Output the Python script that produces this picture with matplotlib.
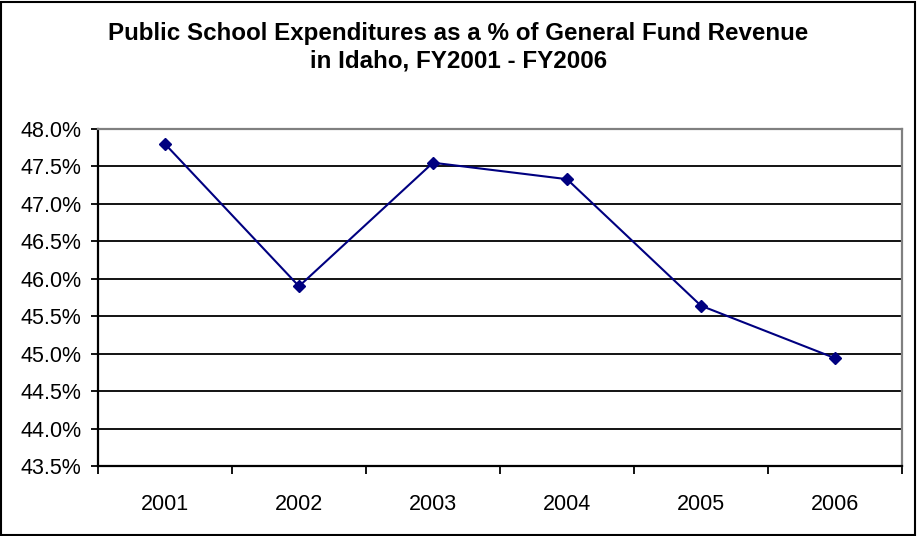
import matplotlib
matplotlib.use("Agg")
import matplotlib.pyplot as plt
from matplotlib.patches import Rectangle
from matplotlib.ticker import FixedLocator, FuncFormatter

plt.rcParams['font.family'] = ['Liberation Sans', 'DejaVu Sans']

years = ["2001", "2002", "2003", "2004", "2005", "2006"]
pct_values = [47.80, 45.90, 47.55, 47.33, 45.64, 44.94]
y_ticks = [43.5, 44.0, 44.5, 45.0, 45.5, 46.0, 46.5, 47.0, 47.5, 48.0]
title = "Public School Expenditures as a % of General Fund Revenue\nin Idaho, FY2001 - FY2006"

W, H = 917, 536
fig = plt.figure(figsize=(W / 100, H / 100), dpi=100)
fig.patch.set_facecolor("white")

# outer chart frame
fig.add_artist(Rectangle((1 / W, 1 / H), (W - 3) / W, (H - 3) / H,
                         transform=fig.transFigure, fill=False,
                         edgecolor="black", linewidth=1.5))

left, right, top, bottom = 98, 902, 129, 466
ax = fig.add_axes([left / W, 1 - bottom / H, (right - left) / W, (bottom - top) / H])

x = list(range(len(years)))
ax.plot(x, pct_values, color="#000080", linewidth=1.5, marker="D",
        markersize=6.5, markerfacecolor="#000080", markeredgecolor="#000080",
        zorder=3)

ax.set_xlim(-0.5, len(years) - 0.5)
ax.set_ylim(y_ticks[0], y_ticks[-1])

ax.yaxis.set_major_locator(FixedLocator(y_ticks))
ax.yaxis.set_major_formatter(FuncFormatter(lambda v, p: f"{v:.1f}%"))
for yv in y_ticks[1:-1]:
    ax.axhline(yv, color="black", linewidth=1.3, zorder=1)

# category boundaries carry the ticks; labels sit centred between them
ax.set_xticks([i - 0.5 for i in range(len(years) + 1)])
ax.set_xticklabels([])
ax.set_xticks(x, minor=True)
ax.set_xticklabels(years, minor=True)
ax.tick_params(axis="x", which="major", direction="out", length=6, width=1.3, color="black")
ax.tick_params(axis="x", which="minor", length=0, pad=20, labelsize=15.5)
ax.tick_params(axis="y", direction="out", length=5, width=1.3, pad=7, labelsize=15.5)

for side in ("top", "right"):
    ax.spines[side].set_color("#808080")
    ax.spines[side].set_linewidth(1.6)
for side in ("left", "bottom"):
    ax.spines[side].set_color("black")
    ax.spines[side].set_linewidth(1.6)

fig.text(0.5, 1 - 47 / H, title, ha="center", va="center", fontsize=17.4,
         fontweight="bold", linespacing=1.25)

fig.savefig("out.png", dpi=100, facecolor="white")
